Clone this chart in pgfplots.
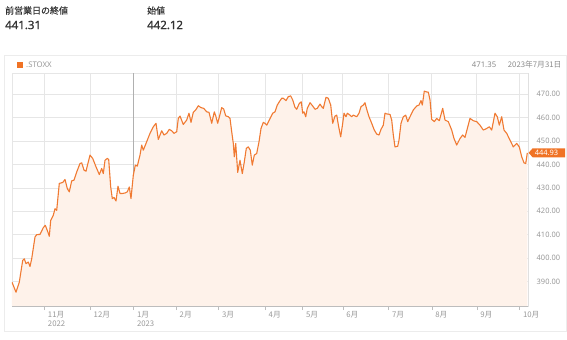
\documentclass[border=0pt]{standalone}
\usepackage{pgfplots}
\pgfplotsset{compat=1.18}
\usepackage{pgfplotstable}
\usepackage{fontspec}
\setmainfont{Noto Sans}
\newfontfamily\jp{Noto Sans CJK JP}
\newfontfamily\hdr[FakeBold=0.9]{Noto Sans}
\newfontfamily\jphdr[FakeBold=0.4]{Noto Sans CJK JP}
\definecolor{linec}{HTML}{F07A32}
\definecolor{fillc}{HTML}{FEF2EA}
\definecolor{gridc}{HTML}{E6E6E6}
\definecolor{janc}{HTML}{B0B0B0}
\definecolor{tickc}{HTML}{999999}
\definecolor{panelc}{HTML}{ECECEC}
\definecolor{headc}{HTML}{333333}
\definecolor{tagc}{HTML}{F07325}
\pgfplotstableread{
x y
12 389.7
16 385.4
19.3 389.7
22.7 399.0
24.3 399.7
26 397.6
28.3 398.3
30 396.4
31.7 399.7
35 409.0
36.7 410.0
40 410.1
43.3 413.0
45.3 414.0
47.3 411.8
49.3 409.3
50.7 416.1
53.3 418.3
55 421.1
56.7 420.4
59.3 431.9
62.7 432.3
65 433.6
67.3 429.7
69.3 428.3
71.7 433.0
74 433.3
76.7 436.8
80 440.4
81.7 440.7
84 437.6
86 437.1
88.3 441.1
90 444.0
92.7 442.6
96 439.0
99.3 435.7
101.7 438.3
103.3 436.1
105 441.8
107.3 442.6
108.7 442.1
110.7 430.4
112.3 425.4
114 425.9
116 424.4
118 430.7
120 427.6
122.3 427.6
125 427.8
127.3 428.3
129.3 430.4
131 425.4
133.3 435.4
135.3 439.7
137.3 439.3
140 444.0
141.7 448.3
143.3 446.1
146 449.0
150 453.3
153.3 456.1
156 457.6
158.3 450.7
161.7 454.4
164 452.6
166.7 453.3
169.3 455.0
171.7 454.4
174 453.3
176.7 454.0
178.3 459.7
180 460.7
183.3 457.1
186.7 459.0
189 461.9
191 458.0
193.3 462.3
195.7 463.3
198.3 465.1
201 464.3
203.7 464.0
206.7 462.5
209 462.3
211.7 457.6
214.3 462.5
215.7 460.8
217.7 457.6
220 461.4
221.7 464.3
223.7 463.7
225.7 460.8
228.3 460.4
230 459.7
231.7 454.0
233.3 449.0
234.3 443.3
235.7 449.0
237.7 436.6
240 441.8
242.3 436.1
244.3 441.1
246.3 446.9
248.3 447.5
250.3 446.1
252.3 439.7
254.3 444.0
256.7 444.7
259 449.7
261 455.4
263.3 458.0
265 457.6
266.7 456.8
269.3 459.0
272.7 461.9
275 462.5
277.3 465.4
279.3 466.8
281.7 468.3
283.3 468.3
286 467.3
288.3 469.0
290.7 469.3
292.7 467.6
295 464.4
296.7 463.6
299.3 466.1
301.3 466.8
302.7 461.9
304 462.5
305.7 460.4
307.3 464.0
310 466.4
312.7 465.0
315 463.6
317.3 464.0
320 465.8
321.7 464.7
323.3 464.0
326 468.7
328.3 468.3
330.7 465.4
332.7 457.6
335 460.7
336.7 461.1
338.7 456.1
340.7 451.8
342.7 457.6
344 461.9
346 460.4
347.3 461.9
350 461.1
351.7 460.4
353.3 461.1
356.7 460.4
359 461.9
361 464.7
363.3 465.4
365 466.4
366.7 463.6
369 460.4
371.7 457.6
374.3 454.7
376.7 453.0
379 452.6
381 455.0
383.3 456.8
385 461.9
386.7 461.6
390 461.4
391.7 459.0
393.3 452.6
395 447.5
397.7 447.8
399 450.4
401 457.6
403.3 460.4
405.7 461.1
407.7 458.3
410 460.4
413.3 463.3
416.7 465.0
419 465.4
421 467.3
422.3 465.4
424.3 471.35
426.7 471.0
428.3 470.9
430 467.6
431.7 459.3
434.3 458.3
436.7 459.7
439.3 458.7
442.7 464.0
445 459.0
448.3 458.3
451.7 454.7
454 451.1
456.7 448.3
460 451.1
462.7 452.6
465 451.6
470 459.7
473.3 458.7
476.7 458.3
480 456.8
483.3 454.7
486.7 455.4
489.3 456.1
491.7 454.7
495 461.9
497.3 460.4
499.3 456.8
501.7 460.4
504 454.7
506.7 453.3
510 450.4
513.3 447.5
516.7 449.0
519.3 447.5
521.7 443.3
524 440.7
525.7 440.4
527.3 444.93
}\stoxx
\begin{document}
\begin{tikzpicture}
\path[use as bounding box] (0,0) rectangle (567bp,-340bp);
% header
\node[anchor=west,inner sep=0pt,text=headc] at (5bp,-10.5bp) {\jphdr\fontsize{9}{10}\selectfont 前営業日の終値};
\node[anchor=west,inner sep=0pt,text=headc] at (5bp,-25bp) {\hdr\fontsize{11.5}{13}\selectfont 441.31};
\node[anchor=west,inner sep=0pt,text=headc] at (147bp,-10.5bp) {\jphdr\fontsize{9}{10}\selectfont 始値};
\node[anchor=west,inner sep=0pt,text=headc] at (147bp,-25bp) {\hdr\fontsize{11.5}{13}\selectfont 442.12};
% panel
\draw[panelc,line width=0.8bp] (4bp,-55bp) rectangle (566.6bp,-331bp);
% legend
\fill[tagc] (16.7bp,-61.5bp) rectangle (23.3bp,-68bp);
\node[anchor=west,inner sep=0pt,text=tickc] at (26bp,-65bp) {\fontsize{7.8}{9}\selectfont .STOXX};
\node[anchor=west,inner sep=0pt,text=tickc!90!black] at (471.7bp,-65bp) {\fontsize{7.8}{9}\selectfont 471.35};
\node[anchor=west,inner sep=0pt,text=tickc!90!black] at (507.7bp,-65bp) {\jp\fontsize{7.8}{9}\selectfont 2023年7月31日};
\begin{axis}[
  at={(12bp,-306bp)}, anchor=south west,
  width=516bp, height=233bp, scale only axis,
  xmin=12, xmax=528, ymin=379.5, ymax=479.1,
  axis line style={draw=gridc},
  xtick={44.3,90,133.3,176,218.3,265,302.3,342.7,388.3,431.7,476.7,519.3},
  xticklabels={{11月\\2022},{12月},{1月\\2023},{2月},{3月},{4月},{5月},{6月},{7月},{8月},{9月},{10月}},
  xtick pos=bottom, tick align=outside, major tick length=4bp,
  xtick style={draw=gridc!60!gray},
  xticklabel style={anchor=north west, align=left, inner sep=0pt, xshift=3.5bp, yshift=-1bp,
    font=\jp\fontsize{7.8}{9.3}\selectfont, text=tickc},
  ytick={390,400,...,470},
  yticklabel pos=right,
  ytick style={draw=none},
  yticklabel style={anchor=west, inner sep=0pt, xshift=4.5bp, font=\fontsize{7.5}{9}\selectfont, text=tickc,
    /pgf/number format/.cd, fixed, fixed zerofill, precision=2, assume math mode=true, /tikz/.cd},
  xmajorgrids, ymajorgrids,
  grid style={draw=gridc, line width=0.7bp},
  clip=true,
]
\draw[janc, line width=0.7bp] (axis cs:133.3,379.5) -- (axis cs:133.3,479.1);
\addplot[fill=fillc, draw=none] table[x=x,y=y] {\stoxx} \closedcycle;
\addplot[draw=linec, line width=1.1bp, line join=round] table[x=x,y=y] {\stoxx};
\draw[gridc!60!gray, line width=0.8bp] (axis cs:12,379.5) -- (axis cs:528,379.5) -- (axis cs:528,479.1);
\end{axis}
% value tag
\fill[tagc] (528.6bp,-152.8bp) -- (532.6bp,-148.3bp) -- (565bp,-148.3bp) -- (565bp,-157.3bp) -- (532.6bp,-157.3bp) -- cycle;
\node[anchor=center,inner sep=0pt,text=white] at (546.5bp,-152.9bp) {\fontsize{7.5}{9}\selectfont\bfseries 444.93};
\end{tikzpicture}
\end{document}
